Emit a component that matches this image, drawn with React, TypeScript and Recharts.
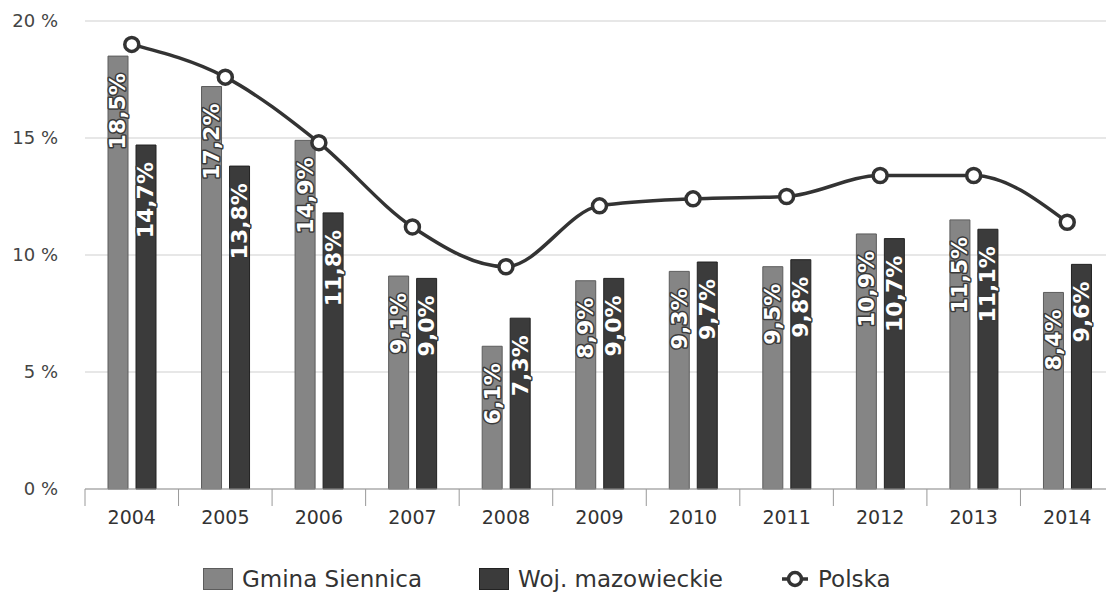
import {
  ComposedChart,
  Bar,
  Line,
  XAxis,
  YAxis,
  CartesianGrid,
  Legend,
  LabelList,
} from 'recharts';

const years = ['2004', '2005', '2006', '2007', '2008', '2009', '2010', '2011', '2012', '2013', '2014'];
const gminaSiennica = [18.5, 17.2, 14.9, 9.1, 6.1, 8.9, 9.3, 9.5, 10.9, 11.5, 8.4];
const wojMazowieckie = [14.7, 13.8, 11.8, 9.0, 7.3, 9.0, 9.7, 9.8, 10.7, 11.1, 9.6];
const polska = [19.0, 17.6, 14.8, 11.2, 9.5, 12.1, 12.4, 12.5, 13.4, 13.4, 11.4];
const yTicks = [0, 5, 10, 15, 20];

const seriesNames = {
  gmina: 'Gmina Siennica',
  woj: 'Woj. mazowieckie',
  polska: 'Polska',
};

const data = years.map((year, i) => ({
  year,
  gmina: gminaSiennica[i],
  woj: wojMazowieckie[i],
  polska: polska[i],
}));

const FONT = '"DejaVu Sans", Verdana, sans-serif';
const CHART_W = 1106;
const CHART_H = 585;
const Y_AXIS_W = 77;
const BAND = (CHART_W - Y_AXIS_W) / years.length;

const GMINA_FILL = '#858585';
const GMINA_EDGE = '#5c5c5c';
const WOJ_FILL = '#3b3b3b';
const WOJ_EDGE = '#222';
const LINE_COLOR = '#333';

const fmt = (v: number) => `${v.toFixed(1).replace('.', ',')}%`;

function BarValueLabel(props: any) {
  const { x, y, width, value } = props;
  const cx = Number(x) + Number(width) / 2;
  const ty = Number(y) + 17;
  return (
    <text
      x={cx}
      y={ty}
      transform={`rotate(-90 ${cx} ${ty})`}
      textAnchor="end"
      dominantBaseline="central"
      fill="#fff"
      stroke="#3a3a3a"
      strokeWidth={3}
      strokeLinejoin="round"
      paintOrder="stroke"
      fontFamily={FONT}
      fontWeight="bold"
      fontSize={22}
    >
      {fmt(value)}
    </text>
  );
}

function YearTick(props: any) {
  const { x, y, payload, index } = props;
  const left = x - BAND / 2;
  const right = x + BAND / 2;
  return (
    <g>
      <line x1={left} x2={left} y1={y} y2={y + 17} stroke="#999" />
      {index === years.length - 1 && (
        <line x1={right} x2={right} y1={y} y2={y + 17} stroke="#999" />
      )}
      <text
        x={x}
        y={y + 28}
        textAnchor="middle"
        dominantBaseline="central"
        fill="#333"
        fontFamily={FONT}
        fontSize={19}
      >
        {payload.value}
      </text>
    </g>
  );
}

function ChartLegend() {
  const box = (fill: string, edge: string) => (
    <span
      style={{
        display: 'inline-block',
        width: 30,
        height: 22,
        background: fill,
        border: `1px solid ${edge}`,
        boxSizing: 'border-box',
        marginRight: 9,
      }}
    />
  );
  return (
    <div
      style={{
        display: 'flex',
        alignItems: 'center',
        fontFamily: FONT,
        fontSize: 23,
        lineHeight: '26px',
        color: '#333',
        whiteSpace: 'nowrap',
      }}
    >
      {box(GMINA_FILL, GMINA_EDGE)}
      <span>{seriesNames.gmina}</span>
      <span style={{ width: 57 }} />
      {box(WOJ_FILL, WOJ_EDGE)}
      <span>{seriesNames.woj}</span>
      <span style={{ width: 57 }} />
      <svg width={30} height={22} style={{ marginRight: 8 }}>
        <line x1={2} x2={28} y1={11} y2={11} stroke={LINE_COLOR} strokeWidth={3.5} />
        <circle cx={15} cy={11} r={6.5} fill="#fff" stroke={LINE_COLOR} strokeWidth={3.5} />
      </svg>
      <span>{seriesNames.polska}</span>
    </div>
  );
}

export default function App() {
  return (
    <div style={{ width: CHART_W, height: CHART_H }}>
      <ComposedChart
        width={CHART_W}
        height={CHART_H}
        data={data}
        margin={{ top: 13, right: 0, bottom: 64, left: 0 }}
        barSize={20}
        barGap={8}
      >
        <CartesianGrid vertical={false} stroke="#cfcfcf" />
        <XAxis
          dataKey="year"
          interval={0}
          height={40}
          tickLine={false}
          tickSize={0}
          tickMargin={0}
          axisLine={{ stroke: '#999' }}
          tick={<YearTick />}
        />
        <YAxis
          width={Y_AXIS_W}
          domain={[0, 20]}
          ticks={yTicks}
          axisLine={false}
          tickLine={false}
          tickSize={0}
          tickMargin={27}
          tickFormatter={(v) => `${v} %`}
          tick={{ fill: '#444', fontSize: 18, fontFamily: FONT }}
        />
        <Legend
          layout="vertical"
          align="center"
          verticalAlign="middle"
          wrapperStyle={{ top: 558, left: 195, width: 'auto', height: 'auto' }}
          content={() => <ChartLegend />}
        />
        <Bar
          dataKey="gmina"
          name={seriesNames.gmina}
          fill={GMINA_FILL}
          stroke={GMINA_EDGE}
          strokeWidth={1}
          isAnimationActive={false}
        >
          <LabelList dataKey="gmina" content={<BarValueLabel />} />
        </Bar>
        <Bar
          dataKey="woj"
          name={seriesNames.woj}
          fill={WOJ_FILL}
          stroke={WOJ_EDGE}
          strokeWidth={1}
          isAnimationActive={false}
        >
          <LabelList dataKey="woj" content={<BarValueLabel />} />
        </Bar>
        <Line
          type="monotone"
          dataKey="polska"
          name={seriesNames.polska}
          stroke={LINE_COLOR}
          strokeWidth={3.5}
          dot={{ r: 7, fill: '#fff', stroke: LINE_COLOR, strokeWidth: 3.5 }}
          activeDot={false}
          isAnimationActive={false}
        />
      </ComposedChart>
    </div>
  );
}
